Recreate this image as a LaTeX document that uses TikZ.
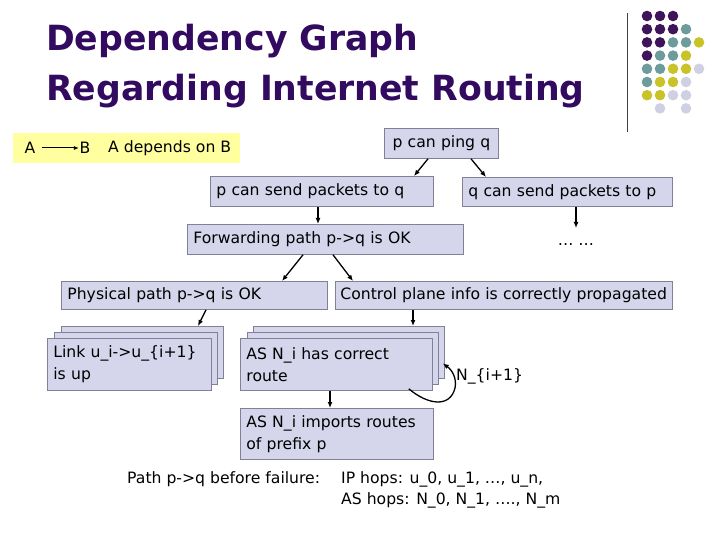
\documentclass[tikz,border=0pt]{standalone}
\usepackage{fontspec}
\setmainfont{DejaVu Sans}
\usetikzlibrary{arrows.meta,calc}
\definecolor{titlecol}{RGB}{50,10,95}
\definecolor{boxfill}{RGB}{213,213,235}
\definecolor{boxline}{RGB}{128,128,150}
\definecolor{legfill}{RGB}{255,255,160}
\definecolor{dp}{RGB}{62,20,90}
\definecolor{dt}{RGB}{110,155,155}
\definecolor{dy}{RGB}{201,195,41}
\definecolor{dl}{RGB}{208,208,228}
\begin{document}
\begin{tikzpicture}[x=1bp,y=-1bp,
  bodyfont/.style={font=\fontsize{15.7}{22.5}\selectfont},
  box/.style={draw=boxline, fill=boxfill, line width=0.8bp, inner xsep=6bp, inner ysep=0bp,
    align=left, anchor=north west, bodyfont},
  txt/.style={inner sep=0bp, bodyfont},
  arr/.style={line width=1.3bp, -{Latex[length=6bp,width=5bp]}},
  titlefont/.style={font=\fontsize{34.8}{40}\selectfont\bfseries, text=titlecol, inner sep=0bp, anchor=base west}]
\useasboundingbox (0,0) rectangle (720,540);

% title
\node[titlefont] (t1) at (46,51) {Dependency Graph};
\node[titlefont] (t2) at (46,101) {Regarding Internet Routing};

% decoration
\draw[line width=1bp, black!75] (627,13) -- (627,132);
\foreach \r/\c/\col in {0/0/dp,0/1/dp,0/2/dp,
  1/0/dp,1/1/dp,1/2/dp,1/3/dt,
  2/0/dp,2/1/dp,2/2/dt,2/3/dt,2/4/dy,
  3/0/dp,3/1/dt,3/2/dt,3/3/dy,
  4/0/dt,4/1/dt,4/2/dy,4/3/dy,4/4/dl,
  5/0/dt,5/1/dy,5/2/dy,5/3/dl,
  6/0/dy,6/1/dy,6/2/dl,6/3/dl,
  7/1/dl,7/3/dl}
  \fill[\col] ({647+13*\c},{16+13.2*\r}) circle (5.3bp);

% legend
\node[fill=legfill, anchor=north west, minimum width=227bp, minimum height=30bp, inner sep=0bp] (leg) at (13,133) {};
\node[txt] (legA) at (30,148) {A};
\node[txt] (legB) at (85,148) {B};
\node[txt, anchor=west] (legT) at (108,148) {A depends on B};
\draw[line width=1bp, -{Latex[length=5bp,width=4bp]}] ([xshift=6bp]legA.east) -- ([xshift=-0.5bp]legB.west);

% boxes
\node[box, align=center, text width=102bp, minimum height=30bp] (ping) at (384,128) {p can ping q};
\node[box, text width=211bp, minimum height=30bp] (sendpq) at (210,176) {p can send packets to q};
\node[box, text width=198bp, minimum height=29bp] (sendqp) at (462,177) {q can send packets to p};
\node[txt, anchor=base] (dots) at (576,246) {… …};
\node[box, text width=264bp, minimum height=30bp] (fwd) at (187,224) {Forwarding path p->q is OK};
\node[box, text width=254bp, minimum height=28bp] (phys) at (61,281) {Physical path p->q is OK};
\node[box, text width=327bp, minimum height=28bp, inner xsep=5bp] (ctrl) at (335,281) {Control plane info is correctly propagated};

% link stack
\node[box, text width=150bp, minimum height=52bp] (linkc) at (61,326) {};
\node[box, text width=151bp, minimum height=52bp] (linkb) at (54,332) {};
\node[box, text width=152bp, minimum height=52bp] (linka) at (47,338) {Link u\_i->u\_\{i+1\}\\is up};

% AS stack
\node[box, text width=179bp, minimum height=52bp] (asc) at (253,326) {};
\node[box, text width=179bp, minimum height=52bp] (asb) at (247,332) {};
\node[box, text width=180bp, minimum height=52bp] (asa) at (240,338) {AS N\_i has correct\\route};

\node[box, text width=181bp, minimum height=51bp] (imp) at (240,408) {AS N\_i imports routes\\of prefix p};

% loop label
\node[txt, anchor=west] (nlab) at (456,376) {N\_\{i+1\}};

% bottom text
\node[txt, anchor=base west] (b1) at (127,483) {Path p->q before failure:};
\node[txt, anchor=base west] (b2) at (341,483) {IP hops: u\_0, u\_1, …, u\_n,};
\node[txt, anchor=base west] (b3) at (341,504) {AS hops: N\_0, N\_1, …., N\_m};

% arrows
\draw[arr] ($(ping.south west)+(44,0)$) -- ($(sendpq.north west)+(204,0)$);
\draw[arr] ($(ping.south west)+(87,0)$) -- ($(sendqp.north west)+(24,0)$);
\draw[arr] ($(sendqp.south west)+(114,0)$) -- ($(dots.base)+(0,-18)$);
\draw[arr] ($(sendpq.south west)+(108,0)$) -- ($(fwd.north west)+(131,0)$);
\draw[arr] ($(fwd.south west)+(116,0)$) -- ($(phys.north west)+(221,0)$);
\draw[arr] ($(fwd.south west)+(146,0)$) -- ($(ctrl.north west)+(18,0)$);
\draw[arr] ($(phys.south west)+(145,0)$) -- ($(linkc.north west)+(137,0)$);
\draw[arr] ($(ctrl.south west)+(78,0)$) -- ($(asc.north west)+(160,0)$);
\draw[arr] ($(asa.south west)+(90,0)$) -- ($(imp.north west)+(90,0)$);
\draw[line width=1.3bp, -{Latex[length=6bp,width=5bp]}] ($(asa.south east)+(-24,-2)$)
  .. controls (428,405) and (450,408) .. (455,388)
  .. controls (457,378) and (452,370) .. ($(asb.east)+(4,5)$);
\end{tikzpicture}
\end{document}
